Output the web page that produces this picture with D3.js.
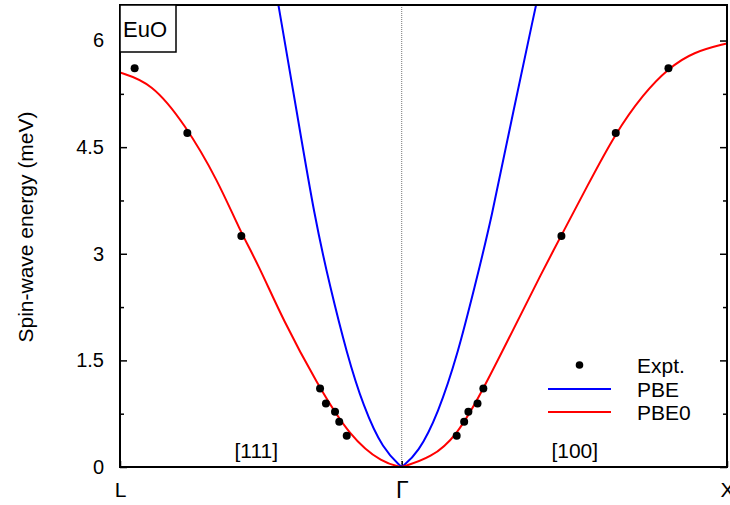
<!DOCTYPE html>
<html>
<head>
<meta charset="utf-8">
<script src="https://cdn.jsdelivr.net/npm/d3@7/dist/d3.min.js"></script>
<style>
  html, body { margin: 0; padding: 0; background: #fff; }
  svg text { font-family: "Liberation Sans", Arial, Helvetica, sans-serif; fill: #000; }
</style>
</head>
<body>
<svg id="chart" width="730" height="505"></svg>
<script>
// Path through the Brillouin zone: L -> Gamma -> X (units of 2π/a)
const kTickPos = [-0.866, 0, 1];
const kTickLabels = ["L", "Γ", "X"];
const energyTicks = [0, 1.5, 3, 4.5, 6];
const energyMinorTicks = [0.75, 2.25, 3.75, 5.25];
const directionLabels = ["[111]", "[100]"];
const directionPos = [-0.447, 0.532];

// PBE0 spin-wave dispersion
const pbe0K = [-0.866, -0.770, -0.667, -0.565, -0.498, -0.442, -0.364, -0.261, -0.159, -0.057, 0,
               0.091, 0.168, 0.245, 0.347, 0.429, 0.491, 0.569, 0.656, 0.743, 0.820, 0.896, 1.0];
const pbe0E = [5.55, 5.41, 4.83, 4.03, 3.33, 2.86, 2.06, 1.18, 0.42, 0.05, 0,
               0.13, 0.43, 1.04, 1.97, 2.72, 3.26, 3.94, 4.69, 5.25, 5.61, 5.84, 5.96];

// PBE spin-wave dispersion
const pbeK = [-0.379, -0.323, -0.267, -0.220, -0.169, -0.118, -0.057, 0,
              0.050, 0.112, 0.173, 0.224, 0.275, 0.343, 0.413];
const pbeE = [6.5, 5.01, 3.49, 2.53, 1.60, 0.85, 0.24, 0,
              0.19, 0.75, 1.60, 2.53, 3.47, 5.01, 6.5];

// Neutron-scattering data
const exptK = [-0.821, -0.659, -0.493, -0.251, -0.233, -0.205, -0.192, -0.169,
               0.169, 0.192, 0.205, 0.233, 0.251, 0.491, 0.658, 0.820];
const exptE = [5.61, 4.70, 3.25, 1.105, 0.895, 0.777, 0.636, 0.44,
               0.44, 0.636, 0.777, 0.895, 1.105, 3.25, 4.70, 5.61];

const legendNames = ["Expt.", "PBE", "PBE0"];
const colors = { pbe: "#0000ff", pbe0: "#ff0000" };

const svg = d3.select("#chart");
const plot = { left: 120, right: 727, top: 5, bottom: 467 };

const x = d3.scaleLinear().domain([kTickPos[0], kTickPos[2]]).range([plot.left, plot.right]);
const y = d3.scaleLinear().domain([0, 6.5]).range([plot.bottom, plot.top]);

svg.append("clipPath").attr("id", "clip")
  .append("rect")
  .attr("x", plot.left).attr("y", plot.top)
  .attr("width", plot.right - plot.left).attr("height", plot.bottom - plot.top);

// Dotted line at Gamma
svg.append("line")
  .attr("x1", x(0)).attr("x2", x(0))
  .attr("y1", plot.top).attr("y2", plot.bottom)
  .attr("stroke", "#777").attr("stroke-width", 1)
  .attr("stroke-dasharray", "1,1");

// Axes
const styleAxis = g => {
  g.select(".domain").remove();
  g.selectAll(".tick line").attr("stroke", "#000").attr("stroke-width", 1.5);
  g.selectAll("text").attr("font-size", 20).attr("fill", "#000")
    .attr("font-family", "'Liberation Sans', Arial, sans-serif");
};

svg.append("g").attr("transform", `translate(${plot.left},0)`)
  .call(d3.axisLeft(y).tickValues(energyTicks).tickSize(-7).tickPadding(16)
    .tickFormat(d => d3.format("")(d)))
  .call(styleAxis);
svg.append("g").attr("transform", `translate(${plot.left},0)`)
  .call(d3.axisLeft(y).tickValues(energyMinorTicks).tickSize(-4).tickFormat(""))
  .call(styleAxis);
svg.append("g").attr("transform", `translate(${plot.right},0)`)
  .call(d3.axisRight(y).tickValues(energyTicks).tickSize(-7).tickFormat(""))
  .call(styleAxis);
svg.append("g").attr("transform", `translate(${plot.right},0)`)
  .call(d3.axisRight(y).tickValues(energyMinorTicks).tickSize(-4).tickFormat(""))
  .call(styleAxis);

const xAxis = svg.append("g").attr("transform", `translate(0,${plot.bottom})`)
  .call(d3.axisBottom(x).tickValues(kTickPos).tickSize(-6).tickPadding(15)
    .tickFormat((d, i) => kTickLabels[i]))
  .call(styleAxis);
xAxis.selectAll("text").attr("font-size", 21);
xAxis.selectAll(".tick").filter((d, i) => kTickLabels[i] === "Γ").select("text")
  .attr("font-family", "'Liberation Serif', 'Times New Roman', serif")
  .attr("font-size", 23);

// Curves: each branch (L-Γ and Γ-X) drawn as its own smooth path
const curveLine = d3.line()
  .x(d => x(d[0])).y(d => y(d[1]))
  .curve(d3.curveBasis);

const branches = (ks, es) => {
  const pts = ks.map((k, i) => [k, es[i]]);
  return [pts.filter(d => d[0] <= 0), pts.filter(d => d[0] >= 0)];
};

const curves = svg.append("g").attr("clip-path", "url(#clip)");
curves.selectAll("path.pbe")
  .data(branches(pbeK, pbeE))
  .join("path").attr("class", "pbe")
  .attr("d", curveLine)
  .attr("fill", "none").attr("stroke", colors.pbe).attr("stroke-width", 2);
curves.selectAll("path.pbe0")
  .data(branches(pbe0K, pbe0E))
  .join("path").attr("class", "pbe0")
  .attr("d", curveLine)
  .attr("fill", "none").attr("stroke", colors.pbe0).attr("stroke-width", 2);

// Experimental points
svg.append("g").selectAll("circle")
  .data(exptK.map((k, i) => [k, exptE[i]]))
  .join("circle")
  .attr("cx", d => x(d[0])).attr("cy", d => y(d[1]))
  .attr("r", 4).attr("fill", "#000");

// Frame
svg.append("rect")
  .attr("x", plot.left).attr("y", plot.top)
  .attr("width", plot.right - plot.left).attr("height", plot.bottom - plot.top)
  .attr("fill", "none").attr("stroke", "#000").attr("stroke-width", 2);

// Material label box
svg.append("rect")
  .attr("x", plot.left).attr("y", plot.top)
  .attr("width", 56).attr("height", 47)
  .attr("fill", "#fff").attr("stroke", "#000").attr("stroke-width", 1.5);
svg.append("text")
  .attr("x", plot.left + 3).attr("y", 36.5)
  .attr("font-size", 22).text("EuO");

// Direction labels
svg.append("g").selectAll("text")
  .data(directionLabels)
  .join("text")
  .attr("x", (d, i) => x(directionPos[i])).attr("y", 458)
  .attr("text-anchor", "middle").attr("font-size", 21)
  .text(d => d);

// Y-axis title
svg.append("text")
  .attr("transform", "translate(33,227) rotate(-90)")
  .attr("text-anchor", "middle").attr("font-size", 21)
  .text("Spin-wave energy (meV)");

// Legend
const legend = svg.append("g");
const legendY = [365, 389, 412];
const legendX0 = 548, legendX1 = 611, legendTextX = 637;
legend.append("circle").attr("cx", (legendX0 + legendX1) / 2).attr("cy", legendY[0])
  .attr("r", 3.8).attr("fill", "#000");
legend.append("line").attr("x1", legendX0).attr("x2", legendX1)
  .attr("y1", legendY[1]).attr("y2", legendY[1])
  .attr("stroke", colors.pbe).attr("stroke-width", 2);
legend.append("line").attr("x1", legendX0).attr("x2", legendX1)
  .attr("y1", legendY[2]).attr("y2", legendY[2])
  .attr("stroke", colors.pbe0).attr("stroke-width", 2);
legend.selectAll("text")
  .data(legendNames)
  .join("text")
  .attr("x", legendTextX).attr("y", (d, i) => legendY[i])
  .attr("dy", "0.36em").attr("font-size", 21)
  .text(d => d);
</script>
</body>
</html>
